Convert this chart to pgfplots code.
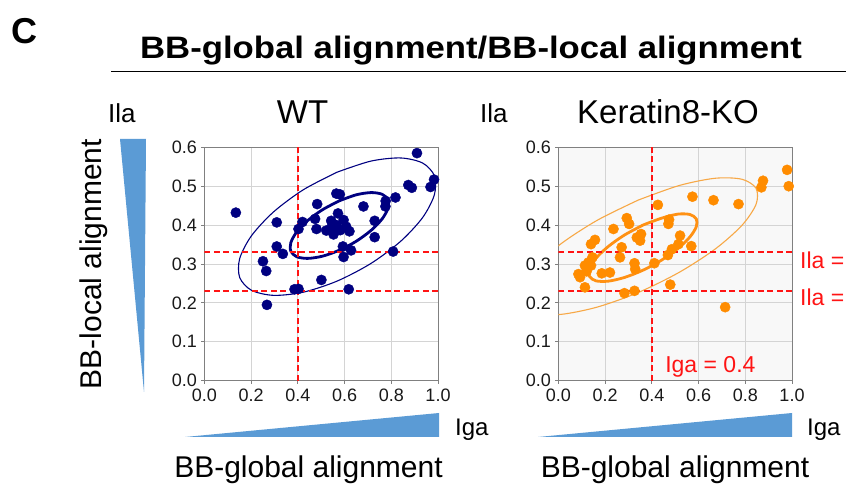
\documentclass[border=0pt]{standalone}
\usepackage{fontspec}
\setmainfont{Liberation Sans}
\usepackage{graphicx}
\usepackage{pgfplots}
\usepackage{pgfplotstable}
\pgfplotsset{compat=1.18}
\definecolor{wtc}{RGB}{0,0,128}
\definecolor{kdot}{RGB}{255,140,0}
\definecolor{kout}{RGB}{247,168,70}
\definecolor{kin}{RGB}{255,145,20}
\definecolor{wedge}{RGB}{91,155,213}
\definecolor{gridc}{RGB}{212,212,212}
\definecolor{framec}{RGB}{128,128,128}
\definecolor{kbg}{RGB}{248,248,248}
\definecolor{txt}{RGB}{25,25,25}
\definecolor{rl}{RGB}{255,20,20}
\newcommand{\fs}[1]{\fontsize{#1bp}{#1bp}\selectfont}
\pgfplotsset{myax/.style={
  scale only axis, width=233.7bp, height=233.4bp, anchor=south west,
  xmin=0, xmax=1, ymin=0, ymax=0.6,
  xtick={0,0.2,0.4,0.6,0.8,1}, ytick={0,0.1,0.2,0.3,0.4,0.5,0.6},
  grid=major, major grid style={gridc, line width=0.8bp},
  axis line style={framec, line width=0.8bp},
  tick align=outside, major tick length=3bp,
  tick style={framec, line width=0.8bp},
  xtick pos=left, ytick pos=left,
  tick label style={font=\fs{18}, text=txt},
  xticklabel style={yshift=-2bp},
  yticklabel style={xshift=-1bp},
  /pgf/number format/fixed,
  /pgf/number format/fixed zerofill,
  /pgf/number format/precision=1,
  /pgf/number format/assume math mode=true,
}}
\tikzset{refline/.style={rl, line width=1.8bp, dash pattern=on 6bp off 3.5bp}}
\pgfplotstableread{
x y
0.135 0.432
0.310 0.407
0.310 0.345
0.336 0.326
0.251 0.307
0.265 0.282
0.268 0.195
0.386 0.235
0.403 0.236
0.403 0.390
0.420 0.408
0.483 0.454
0.474 0.416
0.480 0.390
0.501 0.259
0.565 0.481
0.580 0.479
0.572 0.430
0.543 0.411
0.596 0.413
0.607 0.396
0.522 0.386
0.553 0.376
0.582 0.387
0.621 0.384
0.565 0.400
0.545 0.395
0.593 0.345
0.628 0.335
0.596 0.318
0.618 0.235
0.681 0.448
0.729 0.411
0.729 0.369
0.776 0.462
0.775 0.448
0.818 0.471
0.808 0.332
0.873 0.503
0.888 0.496
0.910 0.585
0.968 0.498
0.983 0.517
}\wtdata
\pgfplotstableread{
x y
0.086 0.274
0.093 0.266
0.114 0.240
0.114 0.296
0.129 0.304
0.146 0.317
0.140 0.296
0.121 0.281
0.140 0.351
0.157 0.362
0.186 0.276
0.221 0.278
0.236 0.390
0.271 0.343
0.264 0.317
0.293 0.418
0.303 0.403
0.336 0.368
0.354 0.377
0.350 0.360
0.326 0.302
0.329 0.287
0.283 0.225
0.326 0.231
0.411 0.302
0.426 0.452
0.471 0.403
0.474 0.414
0.479 0.247
0.486 0.338
0.521 0.373
0.514 0.351
0.569 0.346
0.469 0.323
0.574 0.473
0.664 0.464
0.771 0.454
0.714 0.189
0.869 0.497
0.876 0.514
0.979 0.542
0.986 0.500
}\kodata
\begin{document}
\begin{tikzpicture}
\path[use as bounding box] (0,0) rectangle (846bp,486bp);
% WT
\begin{axis}[myax, at={(204.3bp,105.3bp)}]
\addplot[only marks, mark=*, mark size=5.1bp, color=wtc] table {\wtdata};
\addplot[wtc, line width=1.1bp, smooth, mark=none] coordinates {
(0.568,0.536) (0.4233,0.4907) (0.2961,0.4338) (0.2017,0.3725) (0.1514,0.3139)
(0.1514,0.2653) (0.2017,0.2325) (0.2961,0.2194) (0.4233,0.2275) (0.568,0.256)
(0.7127,0.3013) (0.8399,0.3582) (0.9343,0.4195) (0.9846,0.4781) (0.9846,0.5267)
(0.9343,0.5595) (0.8399,0.5726) (0.7127,0.5645) (0.568,0.536)};
\addplot[wtc, line width=2.8bp, smooth, mark=none] coordinates {
(0.578,0.4625) (0.5058,0.4395) (0.4424,0.4116) (0.3953,0.3823) (0.3702,0.3549)
(0.3702,0.3329) (0.3953,0.3187) (0.4424,0.3144) (0.5058,0.3201) (0.578,0.3355)
(0.6502,0.3585) (0.7136,0.3864) (0.7607,0.4157) (0.7858,0.4431) (0.7858,0.4651)
(0.7607,0.4793) (0.7136,0.4836) (0.6502,0.4779) (0.578,0.4625)};
\addplot[refline, mark=none] coordinates {(0.4,0) (0.4,0.6)};
\addplot[refline, mark=none] coordinates {(0,0.33) (1,0.33)};
\addplot[refline, mark=none] coordinates {(0,0.23) (1,0.23)};
\end{axis}
% Keratin8-KO
\begin{axis}[myax, at={(558.3bp,105.3bp)}, axis background/.style={fill=kbg}]
\addplot[only marks, mark=*, mark size=5.1bp, color=kdot] table {\kodata};
\addplot[kout, line width=1.1bp, smooth, mark=none] coordinates {
(0.342,0.4643) (0.1669,0.4125) (0.0129,0.3526) (-0.1014,0.2919) (-0.1622,0.2376)
(-0.1622,0.1964) (-0.1014,0.1731) (0.0129,0.1706) (0.1669,0.1893) (0.342,0.2267)
(0.5171,0.2785) (0.6711,0.3384) (0.7854,0.3991) (0.8462,0.4534) (0.8462,0.4946)
(0.7854,0.5179) (0.6711,0.5204) (0.5171,0.5017) (0.342,0.4643)};
\addplot[kin, line width=2.8bp, smooth, mark=none] coordinates {
(0.362,0.400) (0.2827,0.3743) (0.2129,0.3446) (0.1611,0.3147) (0.1335,0.2881)
(0.1335,0.2679) (0.1611,0.2567) (0.2129,0.2558) (0.2827,0.2653) (0.362,0.284)
(0.4413,0.3097) (0.5111,0.3394) (0.5629,0.3693) (0.5905,0.3959) (0.5905,0.4161)
(0.5629,0.4273) (0.5111,0.4282) (0.4413,0.4177) (0.362,0.400)};
\addplot[refline, mark=none] coordinates {(0.4,0) (0.4,0.6)};
\addplot[refline, mark=none] coordinates {(0,0.33) (1,0.33)};
\addplot[refline, mark=none] coordinates {(0,0.23) (1,0.23)};
\node[anchor=base west, inner sep=0, text=rl, font=\fs{23}] at (axis cs:0.457,0.02) {Iga = 0.4};
\end{axis}
% texts and decorations
\node[anchor=base west, inner sep=0, font=\bfseries\fs{36}] at (11bp,442bp) {C};
\node[anchor=base, inner sep=0, font=\bfseries\fs{31}] at (471bp,427bp) {\scalebox{1.12}[1]{BB-global alignment/BB-local alignment}};
\draw[line width=1.3bp] (111bp,414.3bp) -- (846bp,414.3bp);
\node[anchor=base west, inner sep=0, font=\fs{26}] at (108bp,363bp) {Ila};
\node[anchor=base, inner sep=0, font=\fs{33}] at (302.5bp,362bp) {WT};
\node[anchor=base west, inner sep=0, font=\fs{26}] at (480bp,363bp) {Ila};
\node[anchor=base, inner sep=0, font=\fs{33}] at (668bp,362bp) {Keratin8-KO};
\node[rotate=90, anchor=base, inner sep=0, font=\fs{30}] at (101bp,222bp) {BB-local alignment};
\fill[wedge] (120bp,347bp) -- (146bp,347bp) -- (144bp,94bp) -- cycle;
\fill[wedge] (185bp,49bp) -- (439bp,49bp) -- (439bp,73bp) -- cycle;
\fill[wedge] (538bp,49bp) -- (792bp,49bp) -- (792bp,73bp) -- cycle;
\node[anchor=base west, inner sep=0, font=\fs{24}] at (455bp,50bp) {Iga};
\node[anchor=base west, inner sep=0, font=\fs{24}] at (807bp,50bp) {Iga};
\node[anchor=base, inner sep=0, font=\fs{30}] at (308.5bp,8.5bp) {BB-global alignment};
\node[anchor=base, inner sep=0, font=\fs{30}] at (675bp,8.5bp) {BB-global alignment};
\node[anchor=base west, inner sep=0, text=rl, font=\fs{23}] at (800bp,217.5bp) {Ila =};
\node[anchor=base west, inner sep=0, text=rl, font=\fs{23}] at (800bp,180.5bp) {Ila =};
\end{tikzpicture}
\end{document}
